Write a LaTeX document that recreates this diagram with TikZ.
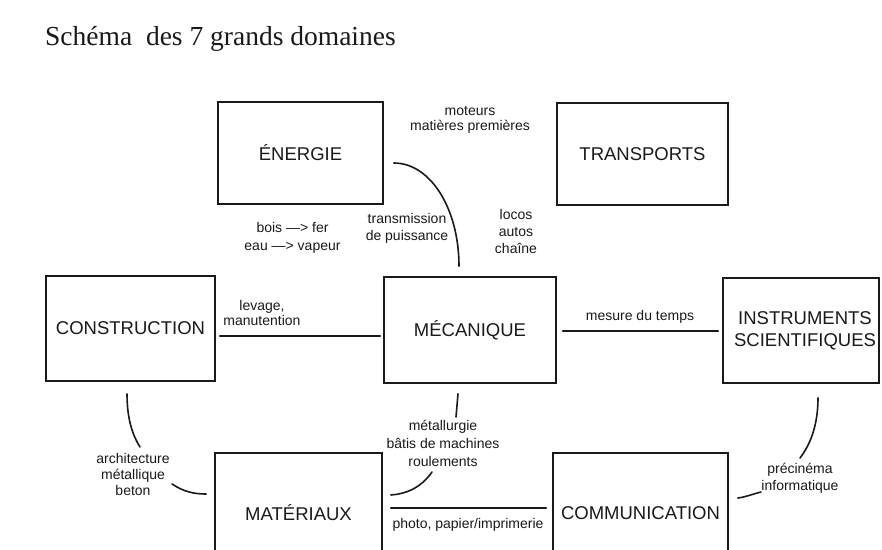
\documentclass[tikz,border=0pt]{standalone}
\usepackage{fontspec}
\newfontfamily\sfam{Liberation Sans}
\newfontfamily\titlefam{Liberation Serif}
\usetikzlibrary{calc}
\definecolor{ink}{HTML}{1A1A1A}
\tikzset{
  dombox/.style={draw=ink, line width=1.6pt, inner sep=0pt, align=center, text=ink,
    font={\sfam\fontsize{18.5}{22}\selectfont}},
  lbl/.style={inner sep=0pt, align=center, text=ink, font={\sfam\fontsize{14}{#1}\selectfont}},
  lbl/.default=16,
  conn/.style={draw=ink, line width=1.6pt, line cap=round}
}
\begin{document}
\begin{tikzpicture}[x=1pt,y=-1pt]
\useasboundingbox (0,0) rectangle (882,549);
\clip (0,0) rectangle (882,549);
\fill[white] (0,0) rectangle (882,549);

\node[anchor=base west, text=ink, inner sep=0pt, font={\titlefam\fontsize{27.5}{30}\selectfont}] (title) at (45,45) {Schéma\ \ des 7 grands domaines};

% boxes
\node[dombox, minimum width=165pt, minimum height=102pt] (energie) at (300.5,153) {ÉNERGIE};
\node[dombox, minimum width=171pt, minimum height=102pt] (transports) at (642.5,154) {TRANSPORTS};
\node[dombox, minimum width=169pt, minimum height=105pt] (construction) at (130.5,328.5) {CONSTRUCTION};
\node[dombox, minimum width=172pt, minimum height=106pt] (mecanique) at (470,330) {MÉCANIQUE};
\node[dombox, minimum width=156pt, minimum height=105pt, text width=150pt] (instruments) at (801,330.5) {\hspace*{8pt}INSTRUMENTS\\\hspace*{8pt}SCIENTIFIQUES};
\node[dombox, minimum width=167pt, minimum height=120pt] (materiaux) at (298.5,513) {MATÉRIAUX};
\node[dombox, minimum width=175pt, minimum height=120pt] (communication) at (640.5,513) {COMMUNICATION};

% labels
\node[lbl=15.5] (lblmot) at (470,120) {moteurs\\matières premières};
\node[lbl=17] (lblloc) at (516,231) {locos\\autos\\chaîne};
\node[lbl=17] (lbltrans) at (407,228.5) {transmission\\de puissance};
\node[lbl=18] (lblbois) at (292.5,237.5) {bois —> fer\\eau —> vapeur};
\node[lbl=15] (lbllev) at (262,312.5) {levage,\\manutention};
\node[lbl] (lblmes) at (640,317) {mesure du temps};
\node[lbl=16] (lblarch) at (133,474) {architecture\\métallique\\beton};
\node[lbl=18] (lblmet) at (443,443) {métallurgie\\bâtis de machines\\roulements};
\node[lbl] (lblphoto) at (468,525) {photo, papier/imprimerie};
\node[lbl=17] (lblpre) at (800,478.5) {précinéma\\informatique};

% connectors
\draw[conn] ($(energie.east)+(10,10)$) .. controls ($(energie.east)+(47,10)$) and ($(mecanique.north)+(-11,-67)$) .. ($(mecanique.north)+(-11,-10)$);
\draw[conn] ($(construction.east)+(4,7.5)$) -- ($(mecanique.west)+(-3,6)$);
\draw[conn] ($(mecanique.east)+(6,1)$) -- ($(instruments.west)+(-4,0.5)$);

\draw[conn] ($(construction.south)+(-3.5,12)$) .. controls ($(construction.south)+(-3.5,38)$) and ($(lblarch.center)+(0,-38)$) .. ($(lblarch.center)+(7,-27)$);
\draw[conn] ($(lblarch.center)+(39,10)$) .. controls ($(materiaux.west)+(-30,-21)$) and ($(materiaux.west)+(-20,-19)$) .. ($(materiaux.west)+(-8,-19)$);

\draw[conn] ($(mecanique.south)+(-12,10)$) -- ($(lblmet.center)+(13,-26)$);
\draw[conn] ($(lblmet.center)+(-11,29)$) .. controls ($(materiaux.east)+(38,-25)$) and ($(materiaux.east)+(23,-19)$) .. ($(materiaux.east)+(8,-18)$);

\draw[conn] ($(materiaux.east)+(8,-5)$) -- ($(communication.west)+(-6,-5)$);

\draw[conn] ($(instruments.south)+(17,14)$) .. controls ($(instruments.south)+(17,42)$) and ($(lblpre.center)+(10,-33.5)$) .. ($(lblpre.center)+(0,-20.5)$);
\draw[conn] ($(lblpre.center)+(-39,13.5)$) .. controls ($(communication.east)+(24,-19)$) and ($(communication.east)+(17,-16)$) .. ($(communication.east)+(9,-15)$);
\end{tikzpicture}
\end{document}
